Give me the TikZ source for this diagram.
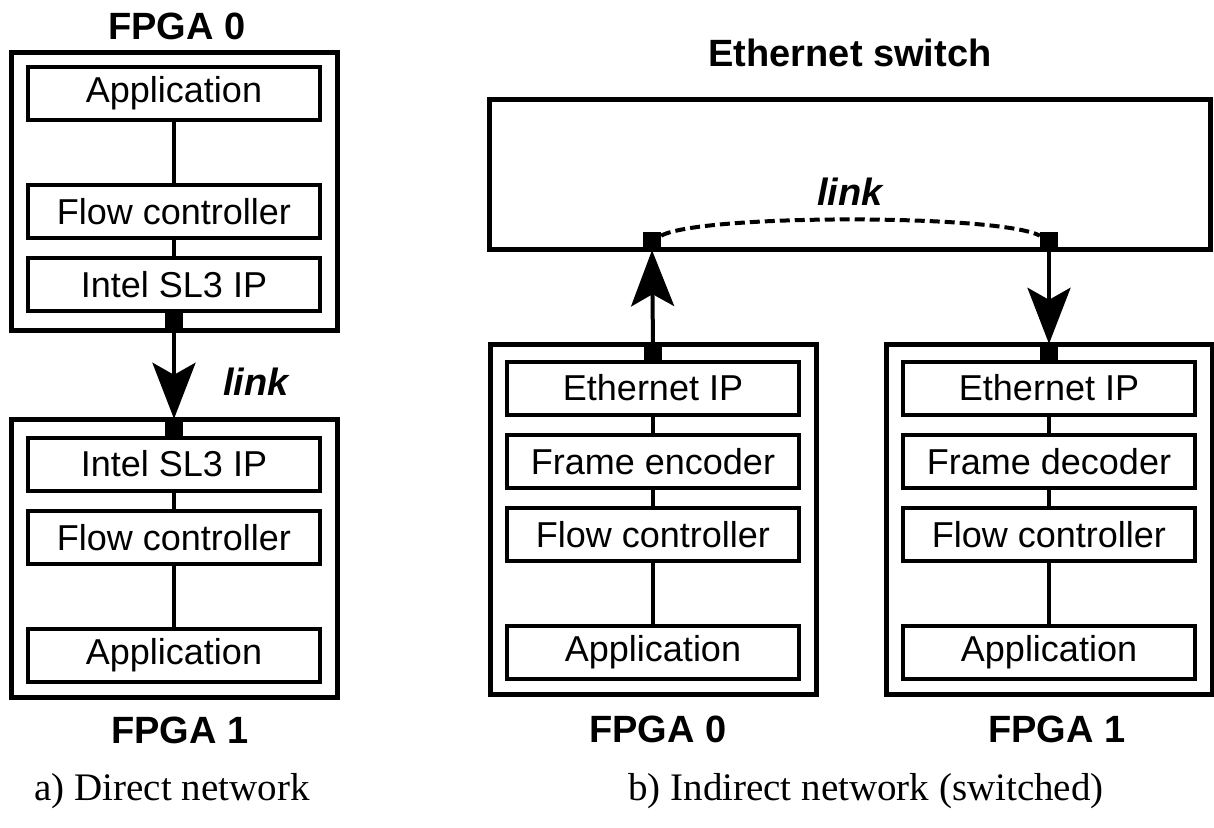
\documentclass[tikz,border=0pt]{standalone}
\usepackage{fontspec}
\setmainfont{Liberation Sans}
\newfontfamily\capfont{Liberation Serif}
\usetikzlibrary{arrows.meta}
\begin{document}
\begin{tikzpicture}%
	[x=1pt, y=-1pt,
	chip/.style={draw, line width=5pt, minimum width=326pt, inner sep=0pt},
	block/.style={draw, line width=4pt, minimum width=292pt, minimum height=53pt, inner sep=0pt, font=\fontsize{36}{40}\selectfont},
	port/.style={fill, minimum size=18pt, inner sep=0pt},
	wire/.style={line width=4pt},
	arrowlink/.style={line width=4pt, -{Stealth[length=56pt, width=43pt, inset=12pt]}},
	virtual/.style={line width=4pt, dash pattern=on 10pt off 5pt},
	title/.style={anchor=base, font=\fontsize{38}{42}\selectfont\bfseries},
	linklabel/.style={anchor=base, font=\fontsize{38}{42}\selectfont\bfseries\itshape},
	caption/.style={anchor=base, font=\fontsize{39}{44}\selectfont\capfont}]
%
\useasboundingbox (0,0) rectangle (1214,827);
%
%% a) direct network
%%
\node[chip, minimum height=278pt] (a0) at (174,191) {};
\node[chip, minimum height=278pt] (a1) at (174,558) {};
\node[title] (a0title) at (177,39) {FPGA 0};
\node[title] (a1title) at (180,743) {FPGA 1};
%
\node[block] (a0app) at (174,93.5) {Application};
\node[block] (a0flow) at (174,211.5) {Flow controller};
\node[block] (a0sl3) at (174,284.5) {Intel SL3 IP};
\node[block] (a1sl3) at (174,464) {Intel SL3 IP};
\node[block] (a1flow) at (174,537.5) {Flow controller};
\node[block] (a1app) at (174,655.5) {Application};
%
\draw[wire] (a0app) -- (a0flow);
\draw[wire] (a0flow) -- (a0sl3);
\draw[wire] (a1sl3) -- (a1flow);
\draw[wire] (a1flow) -- (a1app);
%
\node[port] (a0port) at (174,321.5) {};
\node[port] (a1port) at (174,428) {};
\draw[arrowlink] (a0port.south) -- (a1port.north);
\node[linklabel] (alink) at (256,395) {link};
%
\node[caption] (acap) at (172,800) {a) Direct network};
%%
%%
%% b) indirect network
%%
\node[chip, minimum width=721pt, minimum height=150pt] (sw) at (849.5,174) {};
\node[title] (swtitle) at (850,66) {Ethernet switch};
\node[chip, minimum height=350pt] (b0) at (653,519) {};
\node[chip, minimum height=350pt] (b1) at (1049,519) {};
\node[title] (b0title) at (658,742) {FPGA 0};
\node[title] (b1title) at (1057,742) {FPGA 1};
%
\node[block] (b0eth) at (653,388) {Ethernet IP};
\node[block] (b0enc) at (653,461.5) {Frame encoder};
\node[block] (b0flow) at (653,534.5) {Flow controller};
\node[block] (b0app) at (653,652) {Application};
\node[block] (b1eth) at (1049,388) {Ethernet IP};
\node[block] (b1dec) at (1049,461.5) {Frame decoder};
\node[block] (b1flow) at (1049,534.5) {Flow controller};
\node[block] (b1app) at (1049,652) {Application};
%
\draw[wire] (b0eth) -- (b0enc);
\draw[wire] (b0enc) -- (b0flow);
\draw[wire] (b0flow) -- (b0app);
\draw[wire] (b1eth) -- (b1dec);
\draw[wire] (b1dec) -- (b1flow);
\draw[wire] (b1flow) -- (b1app);
%
\node[port] (swp0) at (652,241) {};
\node[port] (swp1) at (1049,241) {};
\node[port] (b0port) at (653,353) {};
\node[port] (b1port) at (1049,353) {};
\draw[arrowlink] (b0port.north) -- (swp0.south);
\draw[arrowlink] (swp1.south) -- (b1port.north);
\draw[virtual] (swp0.30) .. controls (700,214) and (1000,214) .. (swp1.150);
\node[linklabel] (blink) at (850,205) {link};
%
\node[caption] (bcap) at (866,800) {b) Indirect network (switched)};
%%
\end{tikzpicture}
\end{document}
